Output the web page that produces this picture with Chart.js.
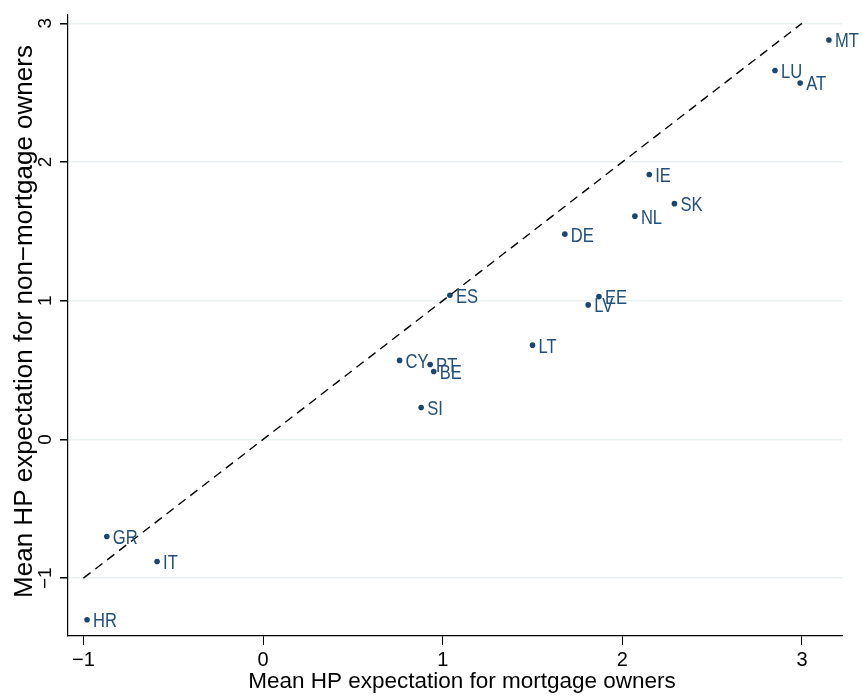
<!DOCTYPE html>
<html>
<head>
<meta charset="utf-8">
<script src="https://cdn.jsdelivr.net/npm/chart.js@4.4.1/dist/chart.umd.min.js"></script>
<style>
    body { margin: 0; background: #fff; }
    #chart { display: block; }
</style>
</head>
<body>
<canvas id="chart" width="862" height="700"></canvas>
<script>
// Data
const countries = ['MT', 'LU', 'AT', 'IE', 'SK', 'NL', 'DE', 'ES', 'EE', 'LV', 'LT', 'CY', 'PT', 'BE', 'SI', 'GR', 'IT', 'HR'];
const mortgageOwners = [3.15, 2.85, 2.99, 2.15, 2.29, 2.07, 1.68, 1.04, 1.87, 1.81, 1.50, 0.76, 0.93, 0.95, 0.88, -0.87, -0.59, -0.98];
const nonMortgageOwners = [2.88, 2.66, 2.57, 1.91, 1.70, 1.61, 1.48, 1.04, 1.03, 0.97, 0.68, 0.57, 0.54, 0.49, 0.23, -0.70, -0.88, -1.30];
const xTicks = [-1, 0, 1, 2, 3];
const xTickLabels = ['−1', '0', '1', '2', '3'];
const yTicks = [-1, 0, 1, 2, 3];
const yTickLabels = ['−1', '0', '1', '2', '3'];
const diagonal = [-1, 3];

const xTitle = 'Mean HP expectation for mortgage owners';
const yTitle = 'Mean HP expectation for non−mortgage owners';

const navy = '#1a476f';
const fontFamily = "'Liberation Sans', Arial, sans-serif";
Chart.defaults.font.family = fontFamily;

// Stata-style text: point labels, rotated y tick labels and axis titles
const textPlugin = {
    id: 'textPlugin',
    afterDatasetsDraw(chart) {
        const ctx = chart.ctx;
        const area = chart.chartArea;
        const ys = chart.scales.y;
        const meta = chart.getDatasetMeta(1);

        ctx.save();

        // marker labels, 3 o'clock
        ctx.fillStyle = '#23507a';
        ctx.font = '19.5px ' + fontFamily;
        ctx.textBaseline = 'alphabetic';
        ctx.textAlign = 'left';
        meta.data.forEach((pt, i) => {
            ctx.save();
            ctx.translate(pt.x + 6, pt.y + 7.5);
            ctx.scale(0.85, 1);
            ctx.fillText(countries[i], 0, 0);
            ctx.restore();
        });

        // y tick labels, vertical
        ctx.fillStyle = '#000';
        ctx.font = '19px ' + fontFamily;
        ctx.textAlign = 'center';
        ctx.textBaseline = 'middle';
        yTicks.forEach((v, i) => {
            ctx.save();
            ctx.translate(ys.right - 22, ys.getPixelForValue(v));
            ctx.rotate(-Math.PI / 2);
            ctx.fillText(yTickLabels[i], 0, 0);
            ctx.restore();
        });

        // axis titles
        ctx.textBaseline = 'alphabetic';
        ctx.font = '22.5px ' + fontFamily;
        ctx.fillText(xTitle, (area.left + area.right) / 2 + 7, 688);

        ctx.save();
        ctx.font = '26px ' + fontFamily;
        ctx.translate(32, (area.top + area.bottom) / 2 - 4);
        ctx.rotate(-Math.PI / 2);
        ctx.fillText(yTitle, 0, 0);
        ctx.restore();

        ctx.restore();
    }
};

const ctx = document.getElementById('chart').getContext('2d');
new Chart(ctx, {
    type: 'scatter',
    data: {
        datasets: [
            {
                type: 'line',
                data: diagonal.map(v => ({ x: v, y: v })),
                borderColor: '#000',
                borderWidth: 1.4,
                borderDash: [9, 6],
                pointRadius: 0,
                fill: false
            },
            {
                data: mortgageOwners.map((x, i) => ({ x: x, y: nonMortgageOwners[i] })),
                backgroundColor: navy,
                borderWidth: 0,
                pointRadius: 2.8
            }
        ]
    },
    options: {
        responsive: false,
        animation: false,
        layout: { padding: { top: 15, right: 20, left: 0, bottom: 0 } },
        plugins: {
            legend: { display: false },
            tooltip: { enabled: false }
        },
        scales: {
            x: {
                type: 'linear',
                min: -1.086,
                max: 3.223,
                afterBuildTicks: scale => { scale.ticks = xTicks.map(v => ({ value: v })); },
                afterFit: scale => { scale.height = 64; },
                ticks: {
                    color: '#000',
                    font: { size: 20 },
                    padding: 3,
                    maxRotation: 0,
                    callback: (value) => xTickLabels[xTicks.indexOf(value)]
                },
                grid: {
                    drawOnChartArea: false,
                    tickColor: '#000',
                    tickLength: 9
                },
                border: { color: '#000', width: 1.2 }
            },
            y: {
                type: 'linear',
                min: -1.417,
                max: 3.06,
                afterBuildTicks: scale => { scale.ticks = yTicks.map(v => ({ value: v })); },
                afterFit: scale => { scale.width = 68; },
                ticks: { display: false },
                grid: {
                    color: '#eaf2f3',
                    lineWidth: 1.5,
                    tickColor: '#000',
                    tickLength: 8
                },
                border: { color: '#000', width: 1.2 }
            }
        }
    },
    plugins: [textPlugin]
});
</script>
</body>
</html>
